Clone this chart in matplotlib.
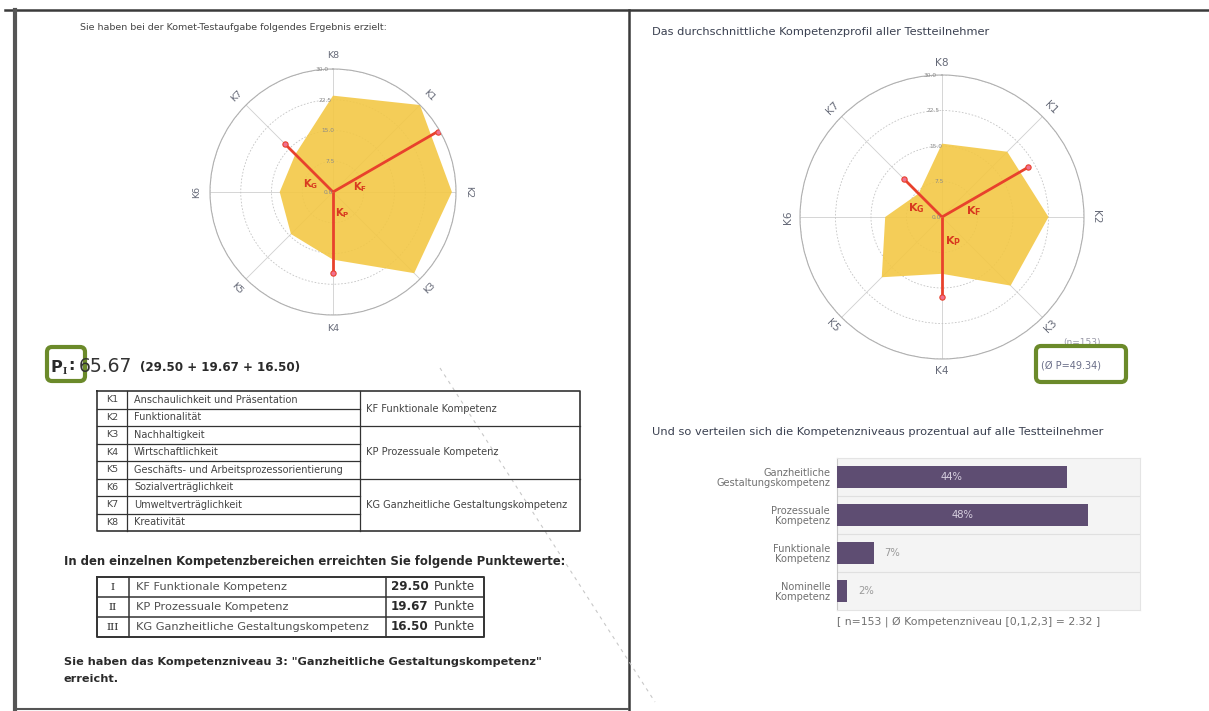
import numpy as np
import matplotlib
matplotlib.use('Agg')
import matplotlib.pyplot as plt
from matplotlib.patches import FancyBboxPatch

W, H = 1209, 711

# ---------------- data ----------------
competences = ['K8', 'K1', 'K2', 'K3', 'K4', 'K5', 'K6', 'K7']   # clockwise from top
comp_angles = [0, 45, 90, 135, 180, 225, 270, 315]
left_scores = [23.5, 30.0, 29.0, 28.0, 16.5, 14.5, 13.0, 13.0]
right_scores = [15.5, 19.5, 22.5, 20.5, 12.0, 18.0, 12.0, 7.0]

components = ['F', 'P', 'G']
component_angles = [60, 180, 315]
left_components = [29.50, 19.67, 16.50]
right_components = [21.10, 16.90, 11.34]

r_ticks = [0, 7.5, 15, 22.5, 30]
r_tick_labels = ['0.0', '7.5', '15.0', '22.5', '30.0']

table_codes = ['K1', 'K2', 'K3', 'K4', 'K5', 'K6', 'K7', 'K8']
table_names = ['Anschaulichkeit und Präsentation', 'Funktionalität', 'Nachhaltigkeit',
               'Wirtschaftlichkeit', 'Geschäfts- und Arbeitsprozessorientierung',
               'Sozialverträglichkeit', 'Umweltverträglichkeit', 'Kreativität']
group_names = ['KF Funktionale Kompetenz', 'KP Prozessuale Kompetenz',
               'KG Ganzheitliche Gestaltungskompetenz']
group_rows = [2, 3, 3]

area_numerals = ['I', 'II', 'III']
area_points = [29.50, 19.67, 16.50]
total_points = 65.67

level_names = ['Ganzheitliche\nGestaltungskompetenz', 'Prozessuale\nKompetenz',
               'Funktionale\nKompetenz', 'Nominelle\nKompetenz']
level_pct = [44, 48, 7, 2]
n_participants = 153
mean_level = 2.32
mean_P = 49.34

# ---------------- figure ----------------
fig = plt.figure(figsize=(W / 100, H / 100), dpi=100)
fig.patch.set_facecolor('white')
bg = fig.add_axes([0, 0, 1, 1])
bg.set_xlim(0, W)
bg.set_ylim(H, 0)
bg.axis('off')

def fax(x0, y0, x1, y1):
    return [x0 / W, 1 - y1 / H, (x1 - x0) / W, (y1 - y0) / H]

# page borders
bg.plot([5, W], [10, 10], color='#3a3a3a', lw=1.8)
bg.plot([15, 15], [10, H], color='#555555', lw=3)
bg.plot([629, 629], [10, H], color='#3a3a3a', lw=1.8)
bg.plot([15, 628], [709, 709], color='#555555', lw=1.5)
# scan artifact
bg.plot([440, 655], [368, 702], color='#c8c8c8', lw=0.8, ls=(0, (3, 4)))

DARK = '#2a2a2a'
GRAY = '#444444'
RED = '#e8412c'
YELLOW = '#f3c846'

bg.text(80, 28, 'Sie haben bei der Komet-Testaufgabe folgendes Ergebnis erzielt:',
        fontsize=6.8, color=GRAY, va='center')
bg.text(652, 32, 'Das durchschnittliche Kompetenzprofil aller Testteilnehmer',
        fontsize=8.2, color='#3a4050', va='center')

# ---------------- radar charts ----------------
def rot_for(a):
    return -a if (a <= 90 or a >= 270) else 180 - a

def radar(cx, cy, R, scores, comps, label_r, fs):
    ax = fig.add_axes(fax(cx - R, cy - R, cx + R, cy + R), projection='polar')
    ax.set_facecolor('none')
    ax.set_axisbelow(True)
    ax.set_theta_zero_location('N')
    ax.set_theta_direction(-1)
    th = np.deg2rad(comp_angles)
    ax.fill(np.r_[th, th[0]], np.r_[scores, scores[0]], color=YELLOW, alpha=0.9,
            lw=0, zorder=1)
    ax.set_ylim(0, 30)
    ax.set_yticks(r_ticks)
    ax.set_yticklabels([])
    ax.set_xticks(th)
    ax.set_xticklabels([])
    ax.yaxis.grid(True, color='#c4c4c4', lw=0.6, ls=(0, (2, 2)))
    ax.xaxis.grid(True, color='#cfcfcf', lw=0.6, ls='-')
    ax.spines['polar'].set_color('#b0b0b0')
    ax.spines['polar'].set_linewidth(0.8)
    for r, lab in zip(r_ticks, r_tick_labels):
        ax.text(np.deg2rad(-5 if r > 0 else -100), r if r > 0 else 1.2, lab,
                fontsize=4.2, color='#8a8a8a', ha='center', va='center', zorder=6)
    for lab, a in zip(competences, comp_angles):
        ax.text(np.deg2rad(a), label_r, lab, rotation=rot_for(a), ha='center',
                va='center', fontsize=fs, color='#666a78', clip_on=False,
                rotation_mode='anchor')
    for name, a, v in zip(components, component_angles, comps):
        t = np.deg2rad(a)
        ax.plot([t, t], [0, v], color=RED, lw=2.0, solid_capstyle='butt', zorder=4)
        ax.plot([t], [v], 'o', ms=3.8, color=RED, mfc='#f07090', mew=0.8, zorder=5)
    lab_pos = {'F': (80, 6.8), 'P': (155, 5.6), 'G': (290, 5.8)}
    for name in components:
        a, r = lab_pos[name]
        ax.text(np.deg2rad(a), r, r'$\mathbf{K_{%s}}$' % name, color='#d83a20',
                fontsize=fs + 0.5, ha='center', va='center', zorder=6)
    return ax

radar(333, 192, 123, left_scores, left_components, 33.2, 6.8)
radar(942, 217, 142, right_scores, right_components, 32.6, 7.6)

# ---------------- P_I line ----------------
bg.text(51, 367, 'P', fontsize=11.5, fontweight='bold', color=DARK, va='center')
bg.text(63, 371, 'I', fontsize=6.5, fontweight='bold', color=DARK, va='center',
        family='DejaVu Serif')
bg.text(68, 366, ':', fontsize=11.5, fontweight='bold', color=DARK, va='center')
bg.text(79, 366, f'{total_points:.2f}', fontsize=13.5, color='#333333', va='center')
bg.text(140, 368, '(' + ' + '.join(f'{p:.2f}' for p in area_points) + ')',
        fontsize=8.6, fontweight='bold', color=DARK, va='center')
bg.add_patch(FancyBboxPatch((47, 347), 38, 34, boxstyle='round,pad=0,rounding_size=5',
                            fill=False, ec='#6b8a2a', lw=3))

# ---------------- competence table ----------------
tx = [97, 127, 360, 580]
ty0, rh = 391, 17.5
ty1 = ty0 + rh * len(table_codes)
lc = '#333333'
bg.plot([tx[0], tx[3], tx[3], tx[0], tx[0]], [ty0, ty0, ty1, ty1, ty0], color=lc, lw=1.2)
for x in tx[1:3]:
    bg.plot([x, x], [ty0, ty1], color=lc, lw=0.9)
for i in range(1, len(table_codes)):
    y = ty0 + i * rh
    bg.plot([tx[0], tx[2]], [y, y], color=lc, lw=0.9)
for i, (c, n) in enumerate(zip(table_codes, table_names)):
    yc = ty0 + (i + 0.5) * rh
    bg.text((tx[0] + tx[1]) / 2, yc, c, fontsize=6.8, color=GRAY, ha='center', va='center')
    bg.text(tx[1] + 7, yc, n, fontsize=7.0, color=GRAY, va='center')
start = 0
for g, nr in zip(group_names, group_rows):
    yc = ty0 + (start + nr / 2) * rh
    bg.text(tx[2] + 6, yc, g, fontsize=7.1, color=GRAY, va='center')
    start += nr
    if start < len(table_codes):
        y = ty0 + start * rh
        bg.plot([tx[2], tx[3]], [y, y], color=lc, lw=0.9)

# ---------------- points ----------------
bg.text(64, 562, 'In den einzelnen Kompetenzbereichen erreichten Sie folgende Punktewerte:',
        fontsize=8.35, fontweight='bold', color=DARK, va='center')
px = [97, 129, 386, 484]
py0, prh = 577, 20
py1 = py0 + prh * len(area_numerals)
bg.plot([px[0], px[3], px[3], px[0], px[0]], [py0, py0, py1, py1, py0], color=lc, lw=1.4)
for x in px[1:3]:
    bg.plot([x, x], [py0, py1], color=lc, lw=1.1)
for i in range(1, len(area_numerals)):
    bg.plot([px[0], px[3]], [py0 + i * prh] * 2, color=lc, lw=1.1)
for i, (num, g, p) in enumerate(zip(area_numerals, group_names, area_points)):
    yc = py0 + (i + 0.5) * prh
    bg.text((px[0] + px[1]) / 2, yc, num, fontsize=7.5, family='DejaVu Serif', color=DARK,
            ha='center', va='center')
    bg.text(px[1] + 7, yc, g, fontsize=8.2, color='#505050', va='center')
    bg.text(px[2] + 5, yc, f'{p:.2f}', fontsize=8.6, fontweight='bold', color=DARK, va='center')
    bg.text(px[2] + 48, yc, 'Punkte', fontsize=8.6, color='#404040', va='center')

bg.text(64, 662, 'Sie haben das Kompetenzniveau 3: "Ganzheitliche Gestaltungskompetenz"',
        fontsize=8.15, fontweight='bold', color=DARK, va='center')
bg.text(64, 679, 'erreicht.', fontsize=8.15, fontweight='bold', color=DARK, va='center')

# ---------------- right side annotations ----------------
bg.text(1082, 342, f'(n={n_participants})', fontsize=6.5, color='#9a9aa8', ha='center',
        va='center')
bg.add_patch(FancyBboxPatch((1036, 346), 90, 36, boxstyle='round,pad=0,rounding_size=5',
                            fc='white', ec='#6b8a2a', lw=3, zorder=5))
bg.text(1041, 365, f'(Ø P={mean_P:.2f})', fontsize=7, color='#6a6e88', va='center',
        zorder=6)

bg.text(652, 432, 'Und so verteilen sich die Kompetenzniveaus prozentual auf alle Testteilnehmer',
        fontsize=8.2, color='#3a4050', va='center')

# ---------------- bar chart ----------------
bx = fig.add_axes(fax(837, 458, 1140, 610))
bx.set_facecolor('#f4f4f4')
ypos = np.arange(len(level_names))
bx.barh(ypos, level_pct, height=0.58, color='#5e4d72', zorder=3)
bx.set_ylim(len(level_names) - 0.5, -0.5)
bx.set_xlim(0, 58)
for i in range(1, len(level_names)):
    bx.axhline(i - 0.5, color='#e0e0e0', lw=0.8, zorder=1)
for y, v in zip(ypos, level_pct):
    if v > 20:
        bx.text(v / 2, y, f'{v}%', color='#d8d0e0', fontsize=7.2, ha='center', va='center',
                zorder=4)
    else:
        bx.text(v + 2, y, f'{v}%', color='#9a9a9a', fontsize=7.2, ha='left', va='center',
                zorder=4)
bx.set_xticks([])
bx.set_yticks(ypos)
bx.set_yticklabels(level_names, fontsize=7.1, color='#707070', linespacing=1.0)
for t in bx.get_yticklabels():
    t.set_multialignment('right')
bx.tick_params(axis='y', length=0, pad=5)
for s in ['top', 'right', 'bottom']:
    bx.spines[s].set_color('#e4e4e4')
bx.spines['left'].set_color('#c8c8c8')

bg.text(969, 622, f'[ n={n_participants} | Ø Kompetenzniveau [0,1,2,3] = {mean_level:.2f} ]',
        fontsize=7.8, color='#707070', ha='center', va='center')

fig.savefig('out.png', dpi=100, facecolor='white')
